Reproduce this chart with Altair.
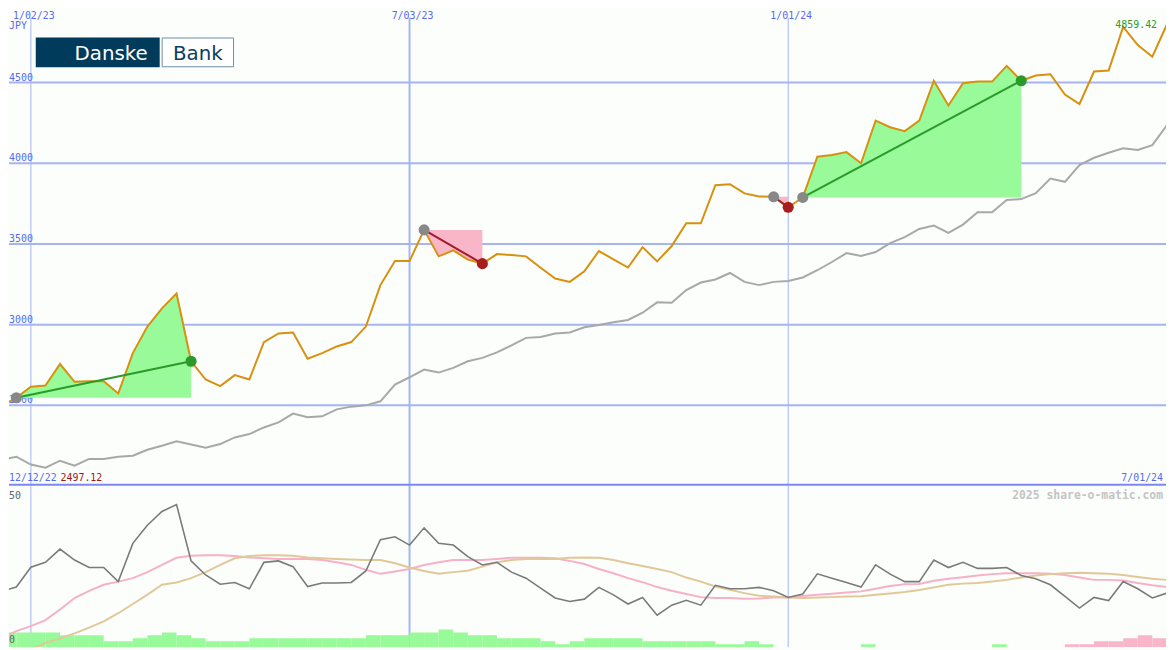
import altair as alt
import pandas as pd

# ---------------- data ----------------
start_date = "2022-12-19"          # weekly points

price = [2497.12, 2547, 2615, 2623, 2756, 2646, 2650, 2650, 2574, 2824,
         2988, 3101, 3193, 2773, 2660, 2619, 2687, 2660, 2892, 2945,
         2951, 2789, 2824, 2865, 2892, 2988, 3245, 3394, 3394, 3587,
         3423, 3460, 3403, 3378, 3437, 3431, 3423, 3353, 3286, 3265,
         3330, 3456, 3405, 3354, 3480, 3392, 3487, 3628, 3628, 3864,
         3870, 3813, 3794, 3792, 3727, 3788, 4040, 4051, 4069, 4000,
         4264, 4223, 4199, 4264, 4511, 4358, 4496, 4506, 4506, 4603,
         4511, 4543, 4551, 4425, 4367, 4568, 4574, 4845, 4732, 4660, 4859.42]

index_line = [2162, 2182, 2133, 2114, 2157, 2126, 2168, 2168, 2182, 2188,
              2225, 2250, 2278, 2258, 2237, 2260, 2301, 2322, 2363, 2394,
              2449, 2426, 2432, 2475, 2492, 2500, 2525, 2629, 2674, 2722,
              2703, 2732, 2773, 2794, 2828, 2871, 2918, 2923, 2945, 2951,
              2984, 2998, 3015, 3029, 3074, 3138, 3136, 3214, 3261, 3280,
              3320, 3265, 3245, 3265, 3271, 3292, 3337, 3388, 3443, 3425,
              3450, 3505, 3542, 3593, 3614, 3569, 3620, 3696, 3696, 3772,
              3778, 3815, 3905, 3885, 3989, 4034, 4065, 4092, 4082, 4112, 4235]

osc_main = [18.4, 19.9, 26.8, 28.5, 33.1, 29.3, 26.7, 26.7, 21.8, 35.1,
            41.4, 46.2, 48.6, 29.0, 24.1, 20.9, 21.5, 19.3, 28.5, 29.0,
            27.0, 20.1, 21.3, 21.3, 21.5, 25.5, 36.4, 37.4, 34.5, 40.5,
            35.1, 34.5, 30.5, 27.6, 28.5, 25.1, 23.0, 19.5, 16.1, 14.9,
            15.7, 19.8, 17.2, 14.0, 16.3, 10.1, 13.6, 15.3, 13.6, 20.5,
            19.3, 19.3, 19.8, 18.6, 16.3, 17.5, 24.5, 23.0, 21.5, 19.9,
            27.6, 24.4, 21.8, 21.8, 29.3, 26.7, 28.5, 26.4, 26.4, 26.7,
            23.9, 22.8, 20.7, 16.7, 12.6, 16.3, 15.2, 21.8, 19.3, 16.1, 17.8]

osc_fast = [2.1, 4.6, 6.3, 8.4, 12.1, 16.1, 18.6, 20.7, 21.8, 23.0,
            25.1, 27.6, 30.1, 30.8, 31.0, 31.0, 30.7, 30.2, 29.9, 29.7,
            29.7, 29.7, 29.3, 28.5, 27.6, 25.9, 24.5, 25.3, 26.2, 27.6,
            28.5, 29.3, 29.3, 29.3, 29.7, 30.1, 30.1, 30.1, 29.9, 29.0,
            27.9, 26.2, 24.7, 23.0, 21.6, 19.9, 18.6, 17.5, 16.4, 16.1,
            16.1, 15.8, 15.9, 16.3, 16.3, 16.8, 17.2, 17.6, 18.0, 18.4,
            19.3, 20.3, 20.9, 21.0, 22.1, 22.8, 23.3, 23.9, 24.4, 24.7,
            24.7, 24.7, 24.5, 24.1, 23.2, 22.4, 22.4, 22.2, 21.3, 20.5, 19.9]

osc_slow = [None, None, -1.9, 0.5, 2.0, 3.8, 5.8, 8.0, 10.8, 14.0,
            17.3, 20.7, 21.5, 23.0, 25.1, 27.6, 29.9, 30.7, 31.0, 31.0,
            30.8, 30.2, 29.9, 29.7, 29.5, 29.3, 29.3, 28.2, 26.7, 25.5,
            24.5, 25.1, 25.6, 27.0, 28.5, 29.3, 29.7, 29.7, 29.7, 30.1,
            30.2, 30.1, 29.3, 28.2, 27.2, 26.2, 25.1, 23.2, 21.8, 20.1,
            19.0, 17.8, 16.9, 16.6, 16.3, 16.1, 16.3, 16.4, 16.6, 16.7,
            17.2, 17.7, 18.2, 18.9, 19.8, 20.7, 21.1, 21.3, 21.8, 22.4,
            23.2, 23.9, 24.4, 24.7, 24.9, 24.7, 24.5, 24.1, 23.4, 22.8, 22.4]

# weekly volume level (sign: + buying / - selling)
volume = [5, 5, 5, 5, 4, 4, 4, 2, 2, 3,
          4, 5, 4, 3, 2, 2, 2, 3, 3, 3,
          3, 3, 3, 3, 3, 4, 4, 4, 5, 5,
          6, 5, 4, 4, 3, 3, 3, 2, 1, 2,
          3, 3, 3, 3, 2, 2, 2, 2, 2, 1,
          1, 2, 1, 0, 0, 0, 0, 0, 0, 1,
          0, 0, 0, 0, 0, 0, 0, 0, 1, 0,
          0, 0, 0, -1, -1, -2, -2, -3, -4, -3]

grid_levels = [2500, 3000, 3500, 4000, 4500]
grid_dates = ["2023-01-02", "2023-07-03", "2024-01-01"]
grid_date_labels = ["1/02/23", "7/03/23", "1/01/24"]
trend_start = [1, 29, 53, 55]
trend_end = [13, 33, 54, 70]
osc_levels = [50, 0]
currency = "JPY"
first_date_label = "12/12/22"
last_date_label = "7/01/24"
copyright_text = "2025 share-o-matic.com"
logo_words = ["Danske", "Bank"]

# ---------------- style ----------------
W, H_TOP, H_BOT = 1167, 479, 163
FONT = "DejaVu Sans Mono"
BG = "#fbfefb"
GRID = "#a6b4f2"
BLUE_TXT = "#5a6af0"
ORANGE = "#d8900f"
GRAYLINE = "#a8a8a8"
GREEN_FILL = "#98fa98"
PINK_FILL = "#f8b6c8"
GREEN_LINE = "#2a9a2a"
RED_LINE = "#a01c28"
DOT_GRAY = "#888888"
DOT_RED = "#a81e1e"

# ---------------- tables ----------------
n = len(price)
t0 = pd.Timestamp(start_date)
weeks = list(range(n))
grid_w = [(pd.Timestamp(d) - t0).days / 7 for d in grid_dates]

xs = alt.Scale(domain=[0.497, 79.94], nice=False, zero=False)
ys = alt.Scale(domain=[2002.5, 4944.7], nice=False, zero=False)
os_ = alt.Scale(domain=[-1.03, 55.17], nice=False, zero=False)
vs = alt.Scale(domain=[0, 54.33], nice=False, zero=False)


def X(f):
    return alt.X(f, type="quantitative", scale=xs, axis=None)


df_main = pd.DataFrame({"w": weeks, "price": price, "index": index_line})

area_rows, trend_rows, dot_rows = [], [], []
for k, (s, e) in enumerate(zip(trend_start, trend_end)):
    kind = "up" if price[e] >= price[s] else "down"
    for i in range(s, e + 1):
        area_rows.append({"seg": k, "w": i, "price": price[i], "base": price[s], "kind": kind})
    trend_rows += [{"seg": k, "w": s, "price": price[s], "kind": kind},
                   {"seg": k, "w": e, "price": price[e], "kind": kind}]
    dot_rows += [{"w": s, "price": price[s], "kind": "start"},
                 {"w": e, "price": price[e], "kind": kind}]
df_area = pd.DataFrame(area_rows)
df_trend = pd.DataFrame(trend_rows)
df_dots = pd.DataFrame(dot_rows)

df_hgrid = pd.DataFrame({"level": grid_levels, "label": [str(v) for v in grid_levels]})
df_vgrid = pd.DataFrame({"w": grid_w, "label": grid_date_labels, "sw": [1, 2, 1]})

df_osc = pd.DataFrame({"w": weeks, "main": osc_main, "fast": osc_fast, "slow": osc_slow})
df_vol = pd.DataFrame({"w": weeks[:len(volume)], "lvl": [abs(v) for v in volume],
                       "kind": ["buy" if v > 0 else "sell" for v in volume]})
df_vol = df_vol[df_vol["lvl"] > 0].copy()
df_vol["w2"] = df_vol["w"] + 1
df_vol["zero"] = 0

one = pd.DataFrame({"a": [0]})

# ---------------- top panel ----------------
hgrid = alt.Chart(df_hgrid).mark_rule(color=GRID, strokeWidth=2, clip=True).encode(
    y=alt.Y("level:Q", scale=ys, axis=None))
vgrid = alt.Chart(df_vgrid).mark_rule(color=GRID, clip=True).encode(
    x=X("w"), y=alt.value(7), y2=alt.value(H_TOP),
    strokeWidth=alt.StrokeWidth("sw:Q", scale=None))
level_lbl = alt.Chart(df_hgrid).mark_text(
    font=FONT, fontSize=10, align="left", baseline="alphabetic", dy=-2,
    color=BLUE_TXT, clip=True).encode(
    x=alt.value(0), y=alt.Y("level:Q", scale=ys, axis=None), text="label:N")
date_lbl = alt.Chart(df_vgrid).mark_text(
    font=FONT, fontSize=10, align="center", baseline="alphabetic", dx=3,
    color=BLUE_TXT, clip=True).encode(x=X("w"), y=alt.value(8), text="label:N")

area_charts = []
for k in sorted(df_area["seg"].unique()):
    sub = df_area[df_area["seg"] == k]
    fill = GREEN_FILL if sub["kind"].iloc[0] == "up" else PINK_FILL
    area_charts.append(
        alt.Chart(sub).mark_area(color=fill, opacity=1, orient="vertical", clip=True).encode(
            x=X("w"),
            y=alt.Y("price:Q", scale=ys, axis=None, stack=None),
            y2="base:Q"))

gray_line = alt.Chart(df_main).mark_line(color=GRAYLINE, strokeWidth=2, clip=True).encode(
    x=X("w"), y=alt.Y("index:Q", scale=ys, axis=None))
price_line = alt.Chart(df_main).mark_line(color=ORANGE, strokeWidth=2, clip=True).encode(
    x=X("w"), y=alt.Y("price:Q", scale=ys, axis=None))

trend = alt.Chart(df_trend).mark_line(strokeWidth=2, clip=True).encode(
    x=X("w"), y=alt.Y("price:Q", scale=ys, axis=None), detail="seg:N",
    color=alt.Color("kind:N", scale=alt.Scale(domain=["up", "down"], range=[GREEN_LINE, RED_LINE]), legend=None))
dots = alt.Chart(df_dots).mark_circle(size=125, opacity=1, clip=True).encode(
    x=X("w"), y=alt.Y("price:Q", scale=ys, axis=None),
    color=alt.Color("kind:N", scale=alt.Scale(domain=["start", "up", "down"],
                                              range=[DOT_GRAY, GREEN_LINE, DOT_RED]), legend=None))


def label(text, x, y, color, align="left", size=10, weight="normal", font=FONT):
    return alt.Chart(one).mark_text(
        text=text, font=font, fontSize=size, fontWeight=weight, align=align,
        baseline="alphabetic", color=color, clip=True).encode(x=alt.value(x), y=alt.value(y))


jpy = label(currency, 0, 18, BLUE_TXT)
first_lbl = label(first_date_label, 0, 474.5, BLUE_TXT)
first_val = label(f"{price[0]:.2f}", 52, 474.5, "#a01818")
last_lbl = label(last_date_label, 1164, 474.5, BLUE_TXT, align="right")
last_val = label(f"{price[-1]:.2f}", 1158, 17, GREEN_LINE, align="right")

border = alt.Chart(one).mark_rule(color="#7c88f0", strokeWidth=2).encode(
    x=alt.value(0), x2=alt.value(W), y=alt.value(H_TOP - 1))

logo_a = alt.Chart(one).mark_rect(color="#003b5c").encode(
    x=alt.value(27), x2=alt.value(152), y=alt.value(27), y2=alt.value(57))
logo_b = alt.Chart(one).mark_rect(fill="#ffffff", stroke="#6a8fa8", strokeWidth=1).encode(
    x=alt.value(154.5), x2=alt.value(226.5), y=alt.value(27.5), y2=alt.value(56.5))
logo_t1 = alt.Chart(one).mark_text(text=logo_words[0], font="DejaVu Sans", fontSize=20,
                                   align="center", baseline="alphabetic", color="#ffffff").encode(
    x=alt.value(103), y=alt.value(49.5))
logo_t2 = alt.Chart(one).mark_text(text=logo_words[1], font="DejaVu Sans", fontSize=20,
                                   align="center", baseline="alphabetic", color="#0b3d5e").encode(
    x=alt.value(190.5), y=alt.value(49.5))

top = alt.layer(
    hgrid, vgrid, level_lbl, date_lbl, *area_charts, gray_line, price_line, trend, dots,
    jpy, first_lbl, first_val, last_lbl, last_val, border,
    logo_a, logo_b, logo_t1, logo_t2,
).properties(width=W, height=H_TOP).resolve_scale(color="independent")

# ---------------- bottom panel ----------------
vgrid_b = alt.Chart(df_vgrid).mark_rule(color=GRID, clip=True).encode(
    x=X("w"), strokeWidth=alt.StrokeWidth("sw:Q", scale=None))
vol = alt.Chart(df_vol).mark_rect(clip=True).encode(
    x=X("w"), x2="w2:Q", y=alt.Y("lvl:Q", scale=vs, axis=None), y2="zero:Q",
    color=alt.Color("kind:N", scale=alt.Scale(domain=["buy", "sell"], range=[GREEN_FILL, PINK_FILL]), legend=None))
fast_line = alt.Chart(df_osc).mark_line(color="#f8b0c8", strokeWidth=2, clip=True).encode(
    x=X("w"), y=alt.Y("fast:Q", scale=os_, axis=None))
slow_line = alt.Chart(df_osc).mark_line(color="#e2c898", strokeWidth=2, clip=True).encode(
    x=X("w"), y=alt.Y("slow:Q", scale=os_, axis=None))
main_line = alt.Chart(df_osc).mark_line(color="#7a7a7a", strokeWidth=1.6, clip=True).encode(
    x=X("w"), y=alt.Y("main:Q", scale=os_, axis=None))
osc_lbl = alt.Chart(pd.DataFrame({"v": osc_levels, "t": [str(v) for v in osc_levels]})).mark_text(
    font=FONT, fontSize=10, align="left", baseline="alphabetic", dy=-1.5, color="#666666", clip=True).encode(
    x=alt.value(0), y=alt.Y("v:Q", scale=os_, axis=None), text="t:N")
copyright = label(copyright_text, 1164, 13, "#c4c4c4", align="right", size=11.5, weight="bold")

bottom = alt.layer(vgrid_b, vol, fast_line, slow_line, main_line, osc_lbl, copyright).properties(
    width=W, height=H_BOT).resolve_scale(y="independent", color="independent")

chart = alt.vconcat(top, bottom, spacing=0, padding=0, background=BG).configure_view(stroke=None)

chart.save("out.html", embed_options={"renderer": "svg", "actions": False})
